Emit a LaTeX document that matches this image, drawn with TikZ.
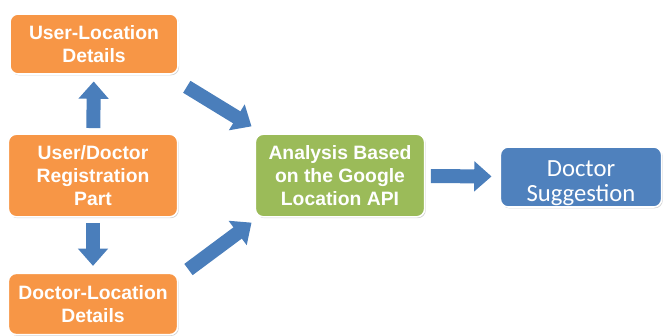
\documentclass[tikz,border=0pt]{standalone}
\usepackage{fontspec}
\setmainfont{Liberation Sans}
\newfontfamily\calfont{Carlito}
\usetikzlibrary{arrows.meta,calc,shadows}

\definecolor{boxorange}{HTML}{F79646}
\definecolor{boxgreen}{HTML}{9BBB59}
\definecolor{boxblue}{HTML}{4F81BD}
\definecolor{arrowblue}{HTML}{4A7EBB}

\tikzset{
  stepbox/.style={rectangle,rounded corners=6pt,draw=white,line width=1.2pt,
    text=white,align=center,inner sep=2pt,
    drop shadow={shadow xshift=0.8pt,shadow yshift=-1pt,opacity=0.35},
    font=\fontsize{14.5}{17}\selectfont\bfseries},
  bigarrow/.style={draw=arrowblue,line width=10.5pt,
    -{Triangle[length=13pt,width=22pt]}}
}

\begin{document}
\begin{tikzpicture}[x=0.75pt,y=-0.75pt]
\useasboundingbox (0,0) rectangle (665,336);

\node[stepbox,fill=boxorange,minimum width=126pt,minimum height=45pt] (uloc) at (94,44) {User-Location\\Details};
\node[stepbox,fill=boxorange,minimum width=127pt,minimum height=62pt] (reg) at (93,175.5) {User/Doctor\\Registration\\Part};
\node[stepbox,fill=boxorange,minimum width=127pt,minimum height=46pt] (dloc) at (93,304) {Doctor-Location\\Details};
\node[stepbox,fill=boxgreen,minimum width=127pt,minimum height=62pt] (api) at (340,175.5) {Analysis Based\\on the Google\\Location API};
\node[stepbox,fill=boxblue,minimum width=121pt,minimum height=45pt,font=\calfont\fontsize{18.5}{19}\selectfont] (sug) at (581,177)
  {\raisebox{-5pt}[\height][\depth]{\begin{tabular}{@{}c@{}}Doctor\\Suggestion\end{tabular}}};

% arrows
\draw[bigarrow,shorten <=4pt,shorten >=5pt] (reg) -- (uloc);
\draw[bigarrow,shorten <=4pt,shorten >=5pt] (reg) -- (dloc);
\draw[bigarrow] ($(uloc.south east)+(8,12)$) -- ($(api.north west)+(-3,-7)$);
\draw[bigarrow] ($(dloc.north east)+(10,-3)$) -- ($(api.south west)+(-3,5)$);
\draw[bigarrow,shorten <=4pt,shorten >=6pt] (api) -- (sug);
\end{tikzpicture}
\end{document}
